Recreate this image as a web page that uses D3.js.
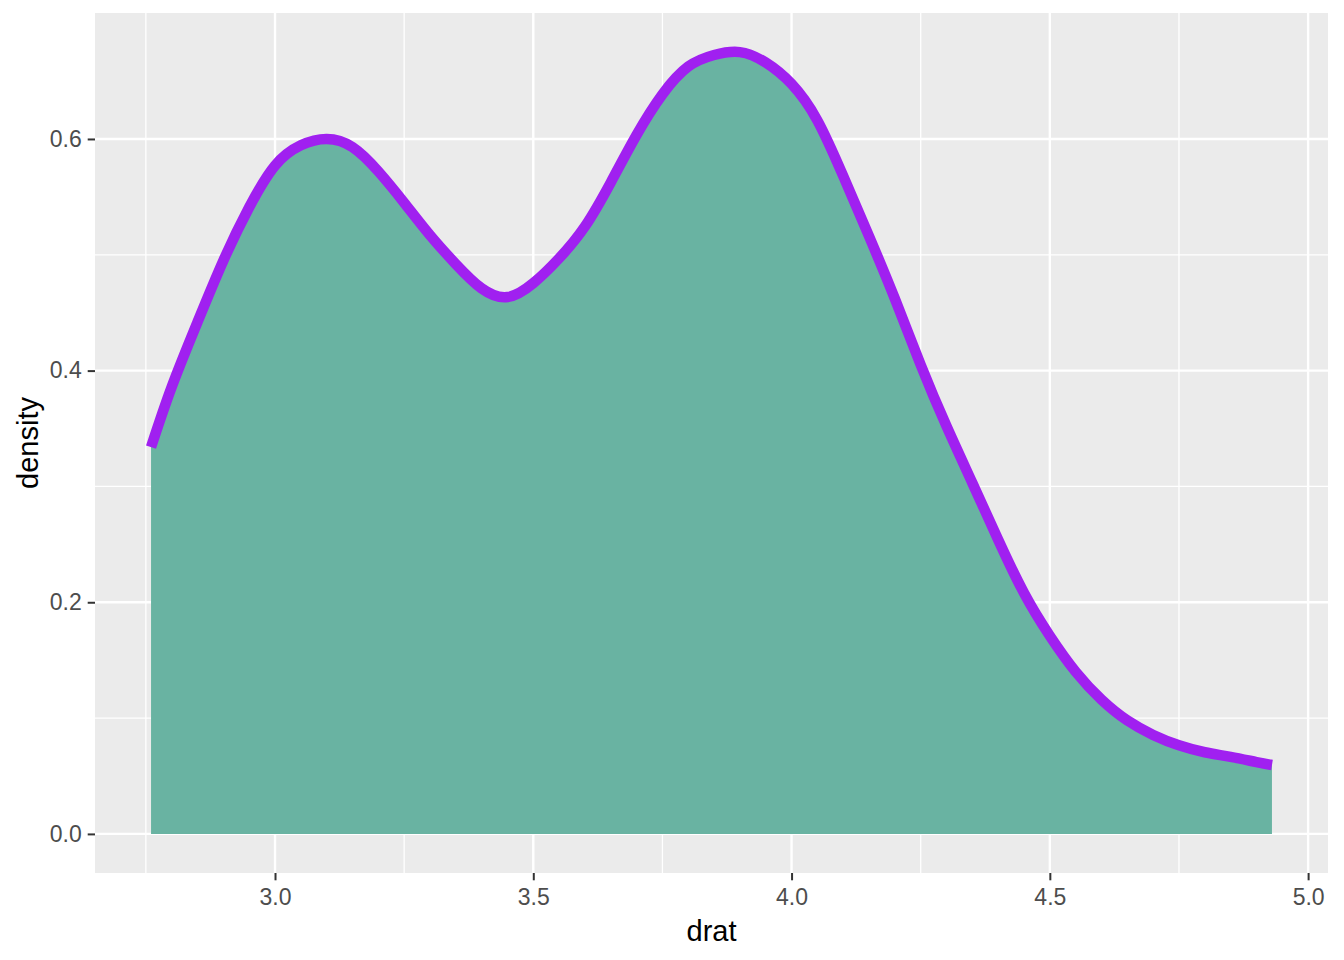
<!DOCTYPE html>
<html>
<head>
<meta charset="utf-8">
<script src="https://cdn.jsdelivr.net/npm/d3@7"></script>
<style>
  html, body { margin: 0; padding: 0; background: #ffffff; }
  svg { display: block; }
  text { font-family: "Liberation Sans", Arial, sans-serif; }
</style>
</head>
<body>
<svg id="chart" width="1344" height="960"></svg>
<script>
// drat values (x) and estimated kernel density (y)
const dratX = [2.76, 2.80, 2.85, 2.90, 2.95, 3.00, 3.05, 3.10, 3.15, 3.20,
  3.25, 3.30, 3.35, 3.40, 3.45, 3.50, 3.55, 3.60, 3.65, 3.70,
  3.75, 3.80, 3.85, 3.90, 3.95, 4.00, 4.05, 4.10, 4.15, 4.20,
  4.25, 4.30, 4.35, 4.40, 4.45, 4.50, 4.55, 4.60, 4.65, 4.70,
  4.75, 4.80, 4.85, 4.90, 4.93];
const densityY = [0.334, 0.386, 0.442, 0.495, 0.541, 0.577, 0.5945, 0.600, 0.593, 0.572,
  0.545, 0.517, 0.492, 0.471, 0.4635, 0.4755, 0.497, 0.5245, 0.5625, 0.6035,
  0.6385, 0.6625, 0.6725, 0.675, 0.666, 0.6475, 0.616, 0.568, 0.516, 0.462,
  0.405, 0.352, 0.303, 0.254, 0.208, 0.171, 0.140, 0.116, 0.098, 0.0855,
  0.0765, 0.0705, 0.0665, 0.062, 0.0595];

const xTicks = [3.0, 3.5, 4.0, 4.5, 5.0];
const xMinor = [2.75, 3.25, 3.75, 4.25, 4.75];
const yTicks = [0.0, 0.2, 0.4, 0.6];
const yMinor = [0.1, 0.3, 0.5];
const xTitle = "drat";
const yTitle = "density";

const data = dratX.map((x, i) => ({ x: x, y: densityY[i] }));

const svg = d3.select("#chart");
const panel = { left: 95, right: 1328, top: 13, bottom: 873 };

// ggplot-style 5% expansion
const xMin = d3.min(dratX), xMax = d3.max(dratX);
const xPad = (xMax - xMin) * 0.05;
const yMax = 0.675;
const yPad = yMax * 0.05;

const x = d3.scaleLinear().domain([xMin - xPad, xMax + xPad]).range([panel.left, panel.right]);
const y = d3.scaleLinear().domain([0 - yPad, yMax + yPad]).range([panel.bottom, panel.top]);

// panel background
svg.append("rect")
  .attr("x", panel.left).attr("y", panel.top)
  .attr("width", panel.right - panel.left)
  .attr("height", panel.bottom - panel.top)
  .attr("fill", "#EBEBEB");

const grid = svg.append("g");
// minor grid
grid.selectAll(".xminor").data(xMinor).enter().append("line")
  .attr("x1", d => x(d)).attr("x2", d => x(d))
  .attr("y1", panel.top).attr("y2", panel.bottom)
  .attr("stroke", "#ffffff").attr("stroke-width", 1.3);
grid.selectAll(".yminor").data(yMinor).enter().append("line")
  .attr("y1", d => y(d)).attr("y2", d => y(d))
  .attr("x1", panel.left).attr("x2", panel.right)
  .attr("stroke", "#ffffff").attr("stroke-width", 1.3);
// major grid
grid.selectAll(".xmajor").data(xTicks).enter().append("line")
  .attr("x1", d => x(d)).attr("x2", d => x(d))
  .attr("y1", panel.top).attr("y2", panel.bottom)
  .attr("stroke", "#ffffff").attr("stroke-width", 2.4);
grid.selectAll(".ymajor").data(yTicks).enter().append("line")
  .attr("y1", d => y(d)).attr("y2", d => y(d))
  .attr("x1", panel.left).attr("x2", panel.right)
  .attr("stroke", "#ffffff").attr("stroke-width", 2.4);

// density area and outline
const curve = d3.curveNatural;
const area = d3.area().x(d => x(d.x)).y0(y(0)).y1(d => y(d.y)).curve(curve);
const line = d3.line().x(d => x(d.x)).y(d => y(d.y)).curve(curve);

svg.append("path").datum(data)
  .attr("d", area)
  .attr("fill", "#69b3a2");

svg.append("path").datum(data)
  .attr("d", line)
  .attr("fill", "none")
  .attr("stroke", "#A020F0")
  .attr("stroke-width", 10.5)
  .attr("stroke-linejoin", "round")
  .attr("stroke-linecap", "butt");

// axes
const xAxis = d3.axisBottom(x).tickValues(xTicks).tickFormat(d3.format(".1f")).tickSize(7.3).tickPadding(8);
const yAxis = d3.axisLeft(y).tickValues(yTicks).tickFormat(d3.format(".1f")).tickSize(7.3).tickPadding(6);

const gx = svg.append("g").attr("transform", `translate(0,${panel.bottom})`).call(xAxis);
const gy = svg.append("g").attr("transform", `translate(${panel.left},0)`).call(yAxis);

[gx, gy].forEach(g => {
  g.select(".domain").remove();
  g.selectAll(".tick line").attr("stroke", "#333333").attr("stroke-width", 2);
  g.selectAll(".tick text")
    .attr("fill", "#4D4D4D")
    .style("font-size", "23px")
    .style("font-family", '"Liberation Sans", Arial, sans-serif');
});
gx.selectAll(".tick text").attr("dy", "0.71em");

// titles
svg.append("text")
  .attr("x", (panel.left + panel.right) / 2)
  .attr("y", 941)
  .attr("text-anchor", "middle")
  .attr("fill", "#000000")
  .style("font-size", "29px")
  .text(xTitle);

svg.append("text")
  .attr("transform", `translate(38,${(panel.top + panel.bottom) / 2}) rotate(-90)`)
  .attr("text-anchor", "middle")
  .attr("fill", "#000000")
  .style("font-size", "29px")
  .text(yTitle);
</script>
</body>
</html>
